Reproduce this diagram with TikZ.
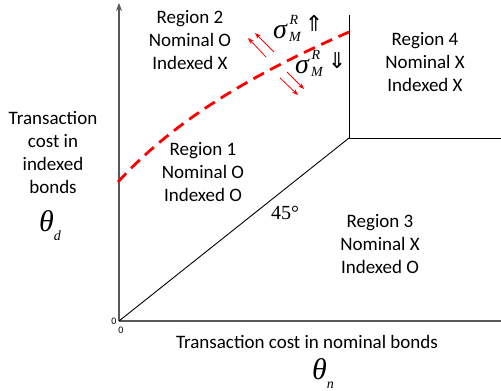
\documentclass[tikz,border=0pt]{standalone}
\usepackage{fontspec}
\setmainfont{Carlito}
\newfontfamily\tms{Liberation Serif}
\newfontfamily\djv{DejaVu Sans}
\usetikzlibrary{arrows.meta}
\tikzset{
  lbl/.style={font=\fontsize{19}{23}\selectfont, align=center, inner sep=0pt},
  axis/.style={draw=black!65, line width=1.6pt},
  bnd/.style={draw=black, line width=0.9pt},
  redarr/.style={draw=red, line width=0.8pt, -{Stealth[length=6pt,width=4.5pt]}},
  curve/.style={draw=red, line width=2.8pt, dash pattern=on 12pt off 7pt},
  greek/.style={inner sep=0pt, font=\tms\itshape\fontsize{30}{30}\selectfont},
  sig/.style={inner sep=0pt, font=\tms\itshape\fontsize{28}{28}\selectfont},
  scr/.style={inner sep=0pt, font=\tms\itshape\fontsize{14}{14}\selectfont},
  dbl/.style={inner sep=0pt, font=\djv\fontsize{22}{22}\selectfont}
}
\begin{document}
\begin{tikzpicture}[x=1pt,y=-1pt]
\useasboundingbox (0,0) rectangle (501,391);
% coordinates
\coordinate (O) at (119,321);
\coordinate (ytop) at (119,3);
\coordinate (xend) at (501,321);
\coordinate (K) at (349,138);
\coordinate (Ktop) at (349,15);
\coordinate (Kend) at (501,138);
\coordinate (c0) at (118,182);
\coordinate (c1) at (349,32);
% axes
\draw[axis, -{Stealth[length=8pt,width=6pt]}] (O) -- (ytop);
\draw[axis] (O) -- (xend);
% boundaries
\draw[bnd] (O) -- (K);
\draw[bnd] (Ktop) -- (K) -- (Kend);
% dashed curve
\draw[curve] (c0) .. controls (178,116) and (262,70) .. (c1);
% red arrows
\coordinate (a1s) at (266,57); \coordinate (a1e) at (248,38);
\coordinate (a2s) at (274,52); \coordinate (a2e) at (255,33);
\coordinate (a3s) at (287,72); \coordinate (a3e) at (304,89);
\coordinate (a4s) at (280,78); \coordinate (a4e) at (298,95);
\draw[redarr] (a1s) -- (a1e);
\draw[redarr] (a2s) -- (a2e);
\draw[redarr] (a3s) -- (a3e);
\draw[redarr] (a4s) -- (a4e);
% region labels
\node[lbl] (r2) at (190,40) {Region 2\\Nominal O\\Indexed X};
\node[lbl] (r4) at (425,62) {Region 4\\Nominal X\\Indexed X};
\node[lbl] (r1) at (203,172) {Region 1\\Nominal O\\Indexed O};
\node[lbl] (r3) at (380,244) {Region 3\\Nominal X\\Indexed O};
\node[lbl] (ylab) at (53,152) {Transaction\\cost in\\indexed\\bonds};
\node[lbl] (xlab) at (307,342) {Transaction cost in nominal bonds};
% greek
\node[greek] (thd) at (50,226) {θ\raisebox{-0.3em}{\fontsize{14}{14}\selectfont d}};
\node[greek] (thn) at (323,374) {θ\raisebox{-0.3em}{\fontsize{14}{14}\selectfont n}};
\node[inner sep=0pt, font=\tms\fontsize{20}{20}\selectfont] (deg) at (285,213) {45°};
% sigma 1
\node[sig] (s1) at (280,31) {σ};
\node[scr] (s1R) at (294,20) {R};
\node[scr] (s1M) at (295,37) {M};
\node[dbl] (u1) at (314,23) {⇑};
% sigma 2
\node[sig] (s2) at (302,66) {σ};
\node[scr] (s2R) at (316,55) {R};
\node[scr] (s2M) at (317,72) {M};
\node[dbl] (d1) at (337,61) {⇓};
% zeros
\node[inner sep=0pt, font=\fontsize{10}{10}\selectfont] (z1) at (114,321) {0};
\node[inner sep=0pt, font=\fontsize{10}{10}\selectfont] (z2) at (121,330) {0};
\end{tikzpicture}
\end{document}
